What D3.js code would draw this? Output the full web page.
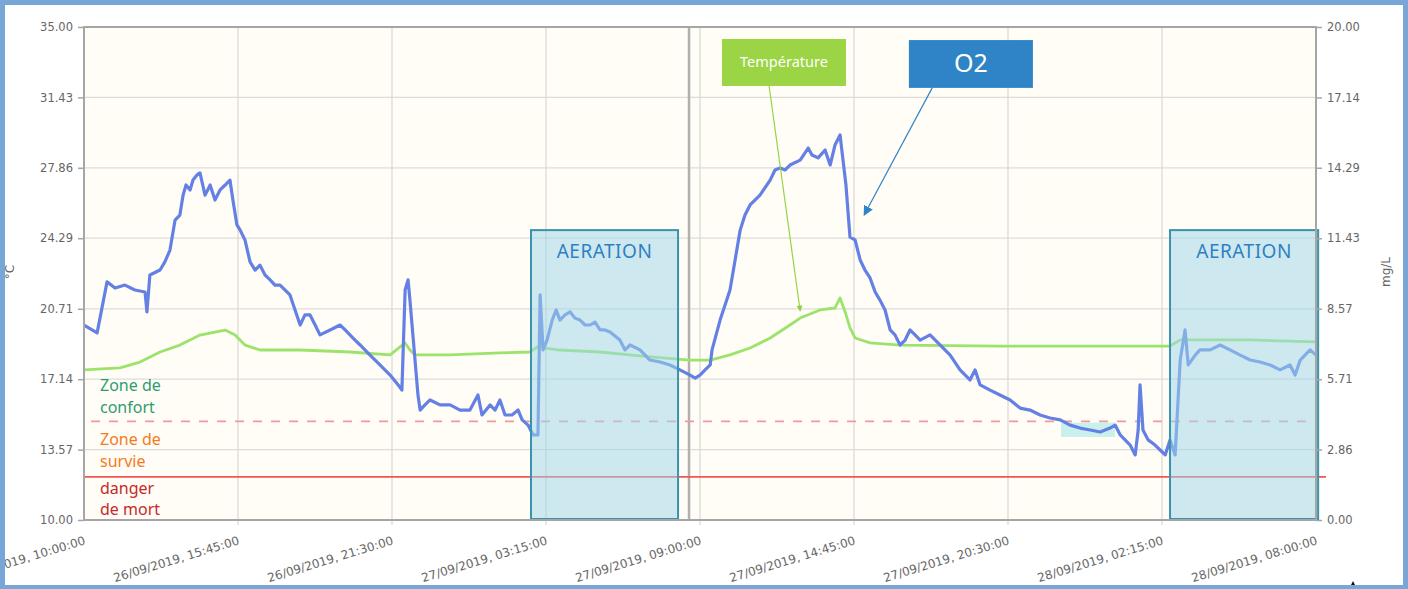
<!DOCTYPE html>
<html><head><meta charset="utf-8">
<script src="https://cdn.jsdelivr.net/npm/d3@7"></script>
<style>
html,body{margin:0;padding:0;background:#fff;}
svg{display:block;}
</style></head>
<body>
<svg id="c" width="1408" height="589"></svg>
<script>
// ---------- DATA ----------
const startTime = "26/09/2019, 10:00:00";
const xTickLabels = ["26/09/2019, 10:00:00","26/09/2019, 15:45:00","26/09/2019, 21:30:00","27/09/2019, 03:15:00","27/09/2019, 09:00:00","27/09/2019, 14:45:00","27/09/2019, 20:30:00","28/09/2019, 02:15:00","28/09/2019, 08:00:00"];
const leftTicks = [10.00,13.57,17.14,20.71,24.29,27.86,31.43,35.00];
const rightTicks = [0.00,2.86,5.71,8.57,11.43,14.29,17.14,20.00];

// O2 (mg/L) – hours since start
const o2Hours = [0.00,0.49,0.86,1.16,1.53,1.90,2.28,2.35,2.46,2.84,3.02,3.21,3.40,3.58,3.70,3.81,3.96,4.07,4.22,4.33,4.52,4.71,4.89,5.08,5.27,5.45,5.56,5.71,5.83,6.01,6.20,6.39,6.57,6.76,6.95,7.13,7.32,7.69,7.88,8.07,8.25,8.44,8.63,8.81,9.19,9.56,9.75,9.93,10.12,10.31,10.68,11.05,11.43,11.73,11.87,11.99,12.10,12.17,12.47,12.55,12.73,12.92,13.29,13.67,14.04,14.41,14.71,14.86,15.16,15.35,15.53,15.72,15.98,16.21,16.36,16.58,16.77,16.95,17.03,17.14,17.29,17.48,17.63,17.77,17.96,18.15,18.33,18.52,18.71,18.89,19.08,19.27,19.45,19.64,20.01,20.20,20.39,20.76,21.13,21.51,21.88,22.25,22.63,22.82,23.00,23.19,23.38,23.45,23.75,24.12,24.50,24.68,24.87,25.24,25.62,25.80,25.99,26.18,26.36,26.74,27.04,27.18,27.41,27.67,27.86,28.04,28.23,28.34,28.45,28.60,28.79,28.98,29.16,29.35,29.54,29.72,29.91,30.10,30.28,30.47,30.66,30.84,31.03,31.22,31.59,31.96,32.34,32.71,33.08,33.27,33.46,33.83,34.20,34.58,34.95,35.32,35.70,36.07,36.45,36.82,37.19,37.57,37.94,38.31,38.50,38.69,38.87,39.06,39.25,39.36,39.43,39.54,39.73,39.99,40.18,40.37,40.55,40.74,40.93,41.11,41.23,41.49,41.67,42.05,42.42,42.79,43.17,43.54,43.91,44.29,44.66,45.03,45.22,45.41,45.59,45.78,46.00];
const o2Values = [7.91,7.59,9.66,9.41,9.53,9.33,9.25,8.44,9.94,10.14,10.47,10.95,12.17,12.37,13.18,13.59,13.39,13.79,14.00,14.08,13.18,13.59,12.98,13.39,13.59,13.79,12.98,11.97,11.76,11.36,10.47,10.14,10.34,9.94,9.74,9.53,9.53,9.13,8.52,7.91,8.32,8.32,7.91,7.51,7.71,7.91,7.71,7.51,7.30,7.10,6.69,6.29,5.88,5.48,5.27,9.33,9.74,8.92,5.07,4.46,4.67,4.87,4.67,4.67,4.46,4.46,5.07,4.26,4.67,4.46,4.87,4.26,4.26,4.46,4.06,3.85,3.45,3.45,9.13,6.90,7.30,8.11,8.52,8.11,8.32,8.44,8.19,8.11,7.91,7.91,8.03,7.71,7.71,7.63,7.30,6.90,7.10,6.90,6.49,6.41,6.29,6.09,5.88,5.76,5.88,6.09,6.29,6.90,8.11,9.33,11.76,12.37,12.78,13.18,13.79,14.20,14.28,14.20,14.40,14.60,15.09,14.81,14.69,15.01,14.40,15.21,15.62,14.60,13.59,11.48,11.36,10.55,10.14,9.82,9.25,8.92,8.52,7.71,7.51,7.10,7.30,7.71,7.51,7.30,7.51,7.10,6.69,6.09,5.68,6.09,5.48,5.27,5.07,4.87,4.54,4.46,4.26,4.14,4.06,3.85,3.73,3.65,3.57,3.73,3.85,3.45,3.25,3.04,2.64,3.65,5.48,3.65,3.25,3.04,2.84,2.64,3.25,2.64,6.49,7.71,6.29,6.69,6.90,6.90,7.10,6.90,6.69,6.49,6.41,6.29,6.09,6.29,5.88,6.49,6.69,6.90,6.69];

// Temperature (°C) – hours since start
const tempHours = [0.00,1.34,2.09,2.84,3.58,4.33,4.89,5.27,5.64,6.01,6.57,8.07,9.93,11.43,11.99,12.17,12.36,13.67,15.53,16.65,17.03,17.21,17.77,19.27,21.13,22.63,23.38,24.12,24.87,25.62,26.36,26.74,27.48,28.04,28.23,28.42,28.60,28.79,29.35,30.47,34.20,40.55,40.93,43.54,46.00];
const tempValues = [17.61,17.71,18.01,18.52,18.87,19.38,19.53,19.63,19.38,18.87,18.62,18.62,18.52,18.37,18.98,18.62,18.37,18.37,18.47,18.52,18.87,18.72,18.62,18.52,18.27,18.11,18.11,18.37,18.72,19.23,19.89,20.24,20.65,20.75,21.26,20.55,19.74,19.23,18.98,18.87,18.82,18.82,19.13,19.13,19.03];

// Zones (mg/L)
const zoneComfortLimit = 4.0;
const zoneDeathLimit = 1.75;
const zoneLabels = [["Zone de","confort"],["Zone de","survie"],["danger","de mort"]];
// Aeration periods (hours since start, top in mg/L)
const aerationStart = [16.69, 40.55];
const aerationEnd = [22.18, 46.08];
const aerationTop = 11.76;
const separatorHour = 22.59;

// ---------- CHART ----------
const W = 1408, H = 589;
const M = {left:84, right:1316, top:27, bottom:520};
const parse = d3.timeParse("%d/%m/%Y, %H:%M:%S");
const t0 = parse(startTime);
const hToDate = h => new Date(t0.getTime() + h*3600000);
const xTicks = xTickLabels.map(parse);

const x = d3.scaleTime().domain([xTicks[0], xTicks[xTicks.length-1]]).range([M.left, M.right]);
const yL = d3.scaleLinear().domain([10,35]).range([M.bottom, M.top]);
const yR = d3.scaleLinear().domain([0,20]).range([M.bottom, M.top]);

const svg = d3.select("#c");
svg.append("rect").attr("width",W).attr("height",H).attr("fill","#fff");

// plot background
svg.append("rect").attr("x",M.left).attr("y",M.top).attr("width",M.right-M.left).attr("height",M.bottom-M.top).attr("fill","#fffdf6");

// grid
const grid = svg.append("g");
grid.selectAll("line.h").data(leftTicks.slice(1,-1)).join("line")
  .attr("x1",M.left).attr("x2",M.right).attr("y1",d=>yL(d)).attr("y2",d=>yL(d))
  .attr("stroke","#dcdcdc").attr("stroke-width",1.2);
grid.selectAll("line.v").data(xTicks.slice(1,-1)).join("line")
  .attr("x1",d=>x(d)).attr("x2",d=>x(d)).attr("y1",M.top).attr("y2",M.bottom+5)
  .attr("stroke","#d8d8d8").attr("stroke-width",1.2);

// separator
svg.append("line").attr("x1",x(hToDate(separatorHour))).attr("x2",x(hToDate(separatorHour)))
  .attr("y1",M.top).attr("y2",M.bottom).attr("stroke","#b0b0b0").attr("stroke-width",2.5);

// small highlight
svg.append("rect").attr("x",x(hToDate(36.48))).attr("y",yR(3.95)).attr("width",x(hToDate(38.5))-x(hToDate(36.48)))
  .attr("height",yR(3.37)-yR(3.95)).attr("fill","#c9f1ec");

// zone lines
svg.append("line").attr("x1",M.left+7).attr("x2",M.right-4).attr("y1",yR(zoneComfortLimit)).attr("y2",yR(zoneComfortLimit))
  .attr("stroke","#f09a9a").attr("stroke-width",1.6).attr("stroke-dasharray","9,9");
svg.append("line").attr("x1",M.left).attr("x2",M.right+10).attr("y1",yR(zoneDeathLimit)).attr("y2",yR(zoneDeathLimit))
  .attr("stroke","#f25555").attr("stroke-width",1.6);

// zone labels
const zoneColors = ["#2f9c70","#f47a23","#c52a2a"];
const zoneBase = [yR(zoneComfortLimit)-30, yR(zoneComfortLimit)+24, yR(zoneDeathLimit)+17];
zoneLabels.forEach((lines,i)=>{
  lines.forEach((s,j)=>{
    svg.append("text").attr("x",M.left+16).attr("y",zoneBase[i]+j*21.5)
      .attr("font-family","'Noto Sans', sans-serif").attr("font-size",16)
      .attr("fill",zoneColors[i]).text(s);
  });
});

// lines
const lineT = d3.line().x((d,i)=>x(hToDate(tempHours[i]))).y(d=>yL(d)).curve(d3.curveLinear);
const lineO = d3.line().x((d,i)=>x(hToDate(o2Hours[i]))).y(d=>yR(d)).curve(d3.curveLinear);
svg.append("path").attr("d",lineT(tempValues)).attr("fill","none").attr("stroke","#9ce36c").attr("stroke-width",2.8).attr("stroke-linejoin","round");
svg.append("path").attr("d",lineO(o2Values)).attr("fill","none").attr("stroke","#6580e4").attr("stroke-width",3.2).attr("stroke-linejoin","round");

// aeration boxes
aerationStart.forEach((s,i)=>{
  const x0 = x(hToDate(s)), x1 = x(hToDate(aerationEnd[i]));
  svg.append("rect").attr("x",x0).attr("y",yR(aerationTop)).attr("width",x1-x0).attr("height",yR(0)-yR(aerationTop)-1)
    .attr("fill","rgba(160,215,232,0.52)").attr("stroke","#3a93ac").attr("stroke-width",2);
  svg.append("text").attr("x",(x0+x1)/2).attr("y",yR(aerationTop)+28).attr("text-anchor","middle")
    .attr("font-family","'Noto Sans', sans-serif").attr("font-size",19).attr("fill","#2f80c2").attr("letter-spacing",0.5).text("AERATION");
});

// frame of plot
svg.append("rect").attr("x",M.left).attr("y",M.top).attr("width",M.right-M.left).attr("height",M.bottom-M.top)
  .attr("fill","none").attr("stroke","#a6a6a6").attr("stroke-width",2);

// axes
const fontTick = "'DejaVu Sans', Verdana, sans-serif";
const axL = svg.append("g").attr("transform",`translate(${M.left},0)`)
  .call(d3.axisLeft(yL).tickValues(leftTicks).tickFormat(d3.format(".2f")).tickSize(6).tickPadding(5));
const axR = svg.append("g").attr("transform",`translate(${M.right},0)`)
  .call(d3.axisRight(yR).tickValues(rightTicks).tickFormat(d3.format(".2f")).tickSize(6).tickPadding(5));
[axL,axR].forEach(a=>{
  a.select(".domain").remove();
  a.selectAll("line").attr("stroke","#a6a6a6").attr("stroke-width",1.5);
  a.selectAll("text").attr("fill","#666").attr("font-family",fontTick).attr("font-size",11.5);
});
const axB = svg.append("g");
axB.selectAll("text").data(xTicks).join("text")
  .attr("transform",(d)=>`translate(${x(d)+2},${M.bottom+24}) rotate(-17)`)
  .attr("text-anchor","end").attr("fill","#666").attr("font-family",fontTick).attr("font-size",12)
  .text((d,i)=>xTickLabels[i]);

// axis titles
svg.append("text").attr("transform","translate(14,272) rotate(-90)").attr("text-anchor","middle")
  .attr("fill","#666").attr("font-family",fontTick).attr("font-size",12).text("°C");
svg.append("text").attr("transform","translate(1390,272) rotate(-90)").attr("text-anchor","middle")
  .attr("fill","#666").attr("font-family",fontTick).attr("font-size",12).text("mg/L");

// annotations
const defs = svg.append("defs");
defs.append("marker").attr("id","arB").attr("viewBox","0 0 10 10").attr("refX",9).attr("refY",5)
  .attr("markerWidth",10).attr("markerHeight",10).attr("orient","auto").attr("markerUnits","userSpaceOnUse")
  .append("path").attr("d","M0,0L10,5L0,10z").attr("fill","#2e84c6");
defs.append("marker").attr("id","arG").attr("viewBox","0 0 10 10").attr("refX",9).attr("refY",5)
  .attr("markerWidth",6).attr("markerHeight",6).attr("orient","auto").attr("markerUnits","userSpaceOnUse")
  .append("path").attr("d","M0,0L10,5L0,10z").attr("fill","#8fd13a");

// Temperature label (time hours, °C)
const tBox = {h0:23.82,h1:28.45,v0:34.39,v1:32.01};
svg.append("line").attr("x1",x(hToDate(25.58))).attr("y1",yL(32.01)).attr("x2",x(hToDate(26.74))).attr("y2",yL(20.6))
  .attr("stroke","#95d44a").attr("stroke-width",1.2).attr("marker-end","url(#arG)");
svg.append("rect").attr("x",x(hToDate(tBox.h0))).attr("y",yL(tBox.v0)).attr("width",x(hToDate(tBox.h1))-x(hToDate(tBox.h0)))
  .attr("height",yL(tBox.v1)-yL(tBox.v0)).attr("fill","#9bd444");
svg.append("text").attr("x",(x(hToDate(tBox.h0))+x(hToDate(tBox.h1)))/2).attr("y",(yL(tBox.v0)+yL(tBox.v1))/2+5)
  .attr("text-anchor","middle").attr("fill","#fff").attr("font-family","'Noto Sans', sans-serif").attr("font-size",14.5).text("Température");

// O2 label (time hours, mg/L)
const oBox = {h0:30.80,h1:35.43,v0:19.47,v1:17.53};
svg.append("line").attr("x1",x(hToDate(31.67))).attr("y1",yR(17.53)).attr("x2",x(hToDate(29.13))).attr("y2",yR(12.37))
  .attr("stroke","#2e84c6").attr("stroke-width",1.2).attr("marker-end","url(#arB)");
svg.append("rect").attr("x",x(hToDate(oBox.h0))).attr("y",yR(oBox.v0)).attr("width",x(hToDate(oBox.h1))-x(hToDate(oBox.h0)))
  .attr("height",yR(oBox.v1)-yR(oBox.v0)).attr("fill","#2e84c6");
svg.append("text").attr("x",(x(hToDate(oBox.h0))+x(hToDate(oBox.h1)))/2).attr("y",(yR(oBox.v0)+yR(oBox.v1))/2+8.5)
  .attr("text-anchor","middle").attr("fill","#fff").attr("font-family","'Noto Sans', sans-serif").attr("font-size",25).text("O2");

// small cursor triangle
svg.append("path").attr("d","M1349,589L1353,581L1357,589Z").attr("fill","#111");

// outer frame
svg.append("path").attr("fill","#78a6d9").attr("fill-rule","evenodd")
  .attr("d",`M0,0H${W}V${H}H0Z M5,5V585H1403V5Z`);
</script>
</body></html>
